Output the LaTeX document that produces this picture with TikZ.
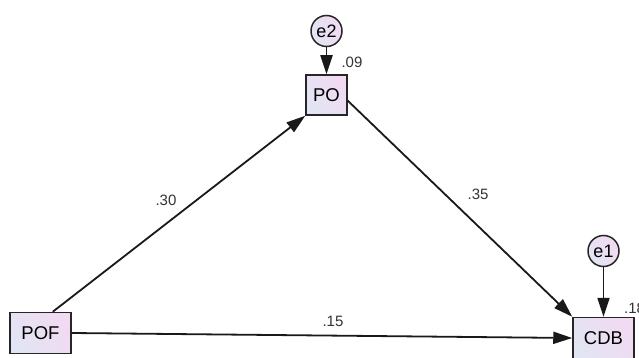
\documentclass[tikz,border=0pt]{standalone}
\usepackage{fontspec}
\setmainfont{Liberation Sans}
\usetikzlibrary{arrows.meta}
\definecolor{fillA}{RGB}{226,229,243}
\definecolor{fillB}{RGB}{242,218,242}
\begin{document}
\begin{tikzpicture}[x=1pt,y=-1pt,
  shadefill/.style={left color=fillA, right color=fillB, shading angle=125},
  obs/.style={draw=black!85, line width=1.5pt, shadefill, inner sep=0pt,
    minimum width=61pt, minimum height=41pt, font=\fontsize{18.5}{18.5}\selectfont},
  err/.style={circle, draw=black!85, line width=1.5pt, shadefill, inner sep=0pt,
    minimum size=31pt, font=\fontsize{18}{18}\selectfont},
  path/.style={draw=black!90, line width=1.8pt, -{Triangle[length=19pt,width=12pt]}},
  coef/.style={font=\fontsize{15}{15}\selectfont, text=black!80, inner sep=0pt}]
\useasboundingbox (0,0) rectangle (639,358);
\clip (0,0) rectangle (639,358);
\fill[white] (0,0) rectangle (639,358);

% observed variables
\node[obs, minimum width=41pt, minimum height=40pt] (PO) at (326.5,95) {PO};
\node[obs] (POF) at (40.5,333) {POF};
\node[obs] (CDB) at (603.5,338) {CDB};

% error terms
\node[err] (e2) at (326.5,31) {e2};
\node[err] (e1) at (603.5,251) {e1};

% paths
\draw[path] (e2) -- (PO);
\draw[path] (e1) -- (CDB);
\draw[path] (POF.60) -- (PO.south west);
\draw[path] (PO.-15) -- (CDB.north west);
\draw[path] (POF.east) -- (CDB.west);

% coefficients
\node[coef] (r2po) at (352,62) {.09};
\node[coef, anchor=west] (r2cdb) at (624,308) {.18};
\node[coef] (b1) at (166,200) {.30};
\node[coef] (b2) at (478,194) {.35};
\node[coef] (b3) at (333,321) {.15};
\end{tikzpicture}
\end{document}
